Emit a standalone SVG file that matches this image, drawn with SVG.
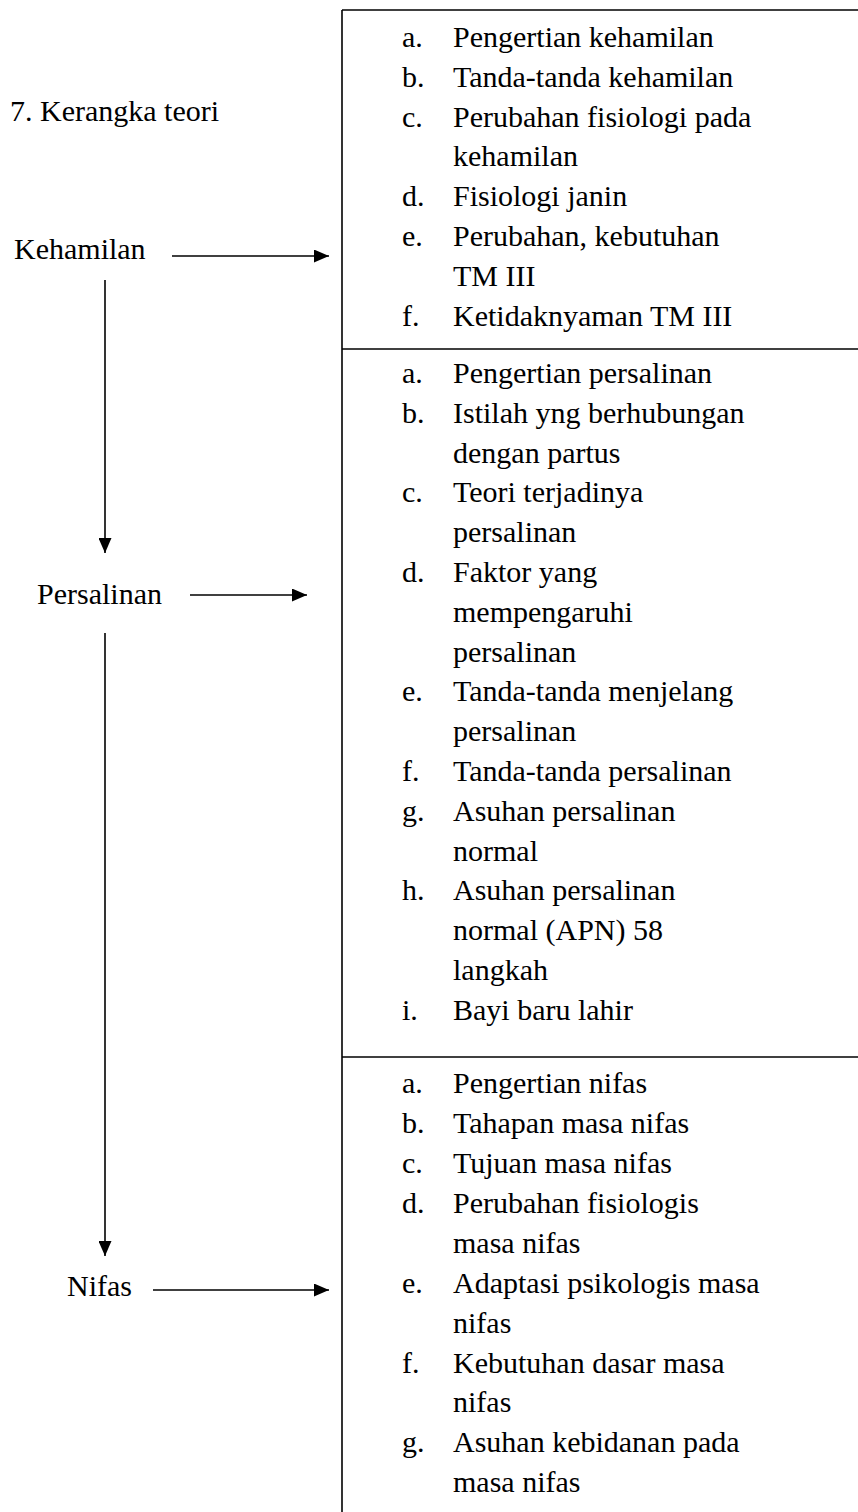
<svg xmlns="http://www.w3.org/2000/svg" width="858" height="1512" viewBox="0 0 858 1512">
<defs>
<marker id="ah" markerWidth="15" markerHeight="13" refX="15" refY="6.5" orient="auto" markerUnits="userSpaceOnUse">
<path d="M0,0 L15,6.5 L0,13 Z" fill="#000"/>
</marker>
<style>
text{font-family:"Liberation Serif","Times New Roman",serif;font-size:30px;fill:#000}
.ln{stroke:#000;stroke-width:1.6;fill:none}
.ar{stroke:#000;stroke-width:1.6;fill:none;marker-end:url(#ah)}
</style>
</defs>
<rect width="858" height="1512" fill="#fff"/>
<g id="title"><text x="10" y="121">7. Kerangka teori</text></g>
<g id="node-kehamilan"><text x="14" y="259">Kehamilan</text></g>
<g id="node-persalinan"><text x="37" y="604">Persalinan</text></g>
<g id="node-nifas"><text x="67" y="1296">Nifas</text></g>
<g id="box">
<line class="ln" x1="342" y1="10" x2="858" y2="10"/>
<line class="ln" x1="342" y1="10" x2="342" y2="1512"/>
<line class="ln" x1="342" y1="349" x2="858" y2="349"/>
<line class="ln" x1="342" y1="1057" x2="858" y2="1057"/>
</g>
<g id="list-kehamilan">
<text x="402" y="47">a.</text><text x="453" y="47">Pengertian kehamilan</text>
<text x="402" y="87">b.</text><text x="453" y="87">Tanda-tanda kehamilan</text>
<text x="402" y="127">c.</text><text x="453" y="127">Perubahan fisiologi pada</text>
<text x="453" y="166">kehamilan</text>
<text x="402" y="206">d.</text><text x="453" y="206">Fisiologi janin</text>
<text x="402" y="246">e.</text><text x="453" y="246">Perubahan, kebutuhan</text>
<text x="453" y="286">TM III</text>
<text x="402" y="326">f.</text><text x="453" y="326">Ketidaknyaman TM III</text>
</g>
<g id="list-persalinan">
<text x="402" y="383">a.</text><text x="453" y="383">Pengertian persalinan</text>
<text x="402" y="423">b.</text><text x="453" y="423">Istilah yng berhubungan</text>
<text x="453" y="463">dengan partus</text>
<text x="402" y="502">c.</text><text x="453" y="502">Teori terjadinya</text>
<text x="453" y="542">persalinan</text>
<text x="402" y="582">d.</text><text x="453" y="582">Faktor yang</text>
<text x="453" y="622">mempengaruhi</text>
<text x="453" y="662">persalinan</text>
<text x="402" y="701">e.</text><text x="453" y="701">Tanda-tanda menjelang</text>
<text x="453" y="741">persalinan</text>
<text x="402" y="781">f.</text><text x="453" y="781">Tanda-tanda persalinan</text>
<text x="402" y="821">g.</text><text x="453" y="821">Asuhan persalinan</text>
<text x="453" y="861">normal</text>
<text x="402" y="900">h.</text><text x="453" y="900">Asuhan persalinan</text>
<text x="453" y="940">normal (APN) 58</text>
<text x="453" y="980">langkah</text>
<text x="402" y="1020">i.</text><text x="453" y="1020">Bayi baru lahir</text>
</g>
<g id="list-nifas">
<text x="402" y="1093">a.</text><text x="453" y="1093">Pengertian nifas</text>
<text x="402" y="1133">b.</text><text x="453" y="1133">Tahapan masa nifas</text>
<text x="402" y="1173">c.</text><text x="453" y="1173">Tujuan masa nifas</text>
<text x="402" y="1213">d.</text><text x="453" y="1213">Perubahan fisiologis</text>
<text x="453" y="1253">masa nifas</text>
<text x="402" y="1293">e.</text><text x="453" y="1293">Adaptasi psikologis masa</text>
<text x="453" y="1333">nifas</text>
<text x="402" y="1373">f.</text><text x="453" y="1373">Kebutuhan dasar masa</text>
<text x="453" y="1412">nifas</text>
<text x="402" y="1452">g.</text><text x="453" y="1452">Asuhan kebidanan pada</text>
<text x="453" y="1492">masa nifas</text>
</g>
<g id="connectors">
<line class="ar" x1="172" y1="256" x2="329" y2="256"/>
<line class="ar" x1="105" y1="280" x2="105" y2="553"/>
<line class="ar" x1="190" y1="595" x2="307" y2="595"/>
<line class="ar" x1="105" y1="633" x2="105" y2="1256"/>
<line class="ar" x1="153" y1="1290" x2="329" y2="1290"/>
</g>
</svg>
